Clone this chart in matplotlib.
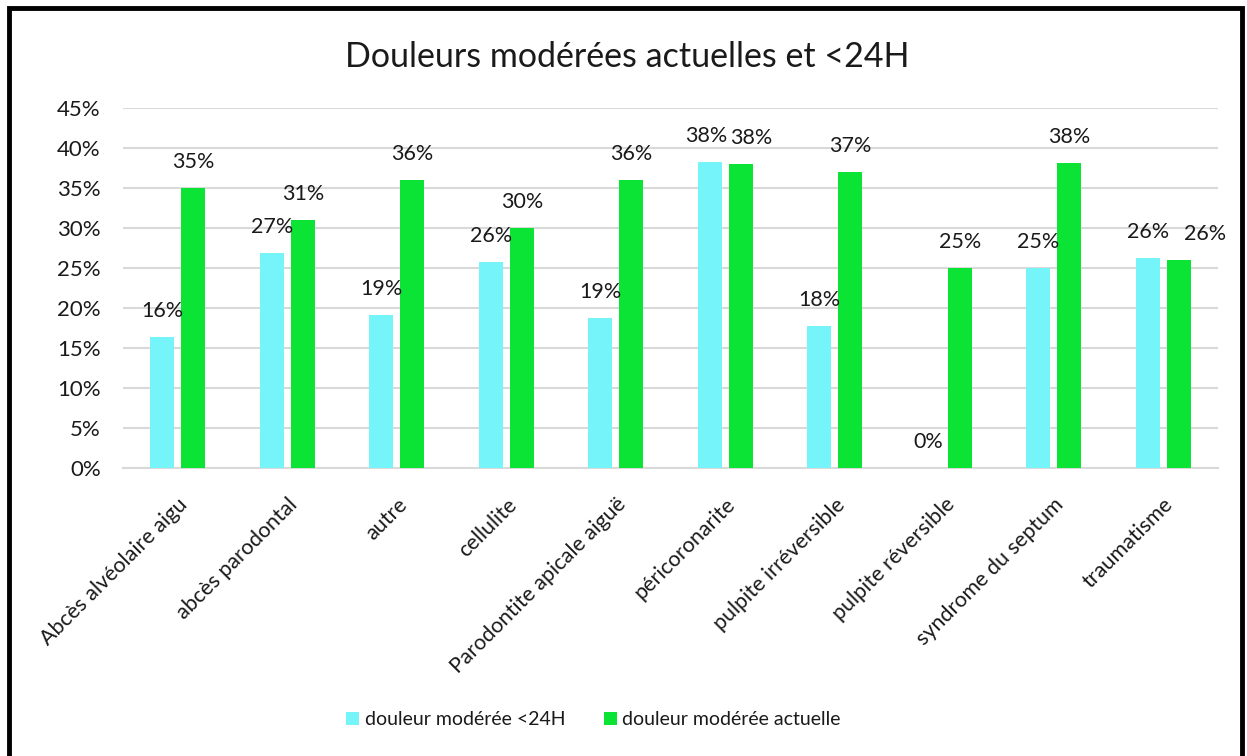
import matplotlib
matplotlib.use("Agg")
import matplotlib.pyplot as plt
import numpy as np
from matplotlib.patches import Rectangle
from matplotlib.ticker import PercentFormatter

plt.rcParams["font.family"] = ["Lato", "DejaVu Sans"]

categories = ["Abcès alvéolaire aigu", "abcès parodontal", "autre", "cellulite",
              "Parodontite apicale aiguë", "péricoronarite", "pulpite irréversible",
              "pulpite réversible", "syndrome du septum", "traumatisme"]
moderee_24h = [0.164, 0.269, 0.191, 0.258, 0.188, 0.382, 0.178, 0.0, 0.25, 0.263]
moderee_actuelle = [0.35, 0.31, 0.36, 0.30, 0.36, 0.38, 0.37, 0.25, 0.381, 0.26]
series_names = ["douleur modérée <24H", "douleur modérée actuelle"]

CYAN = "#75F5F9"
GREEN = "#0BE335"
GRID = "#D9D9D9"
INK = "#1a1a1a"

# Excel nudged a few labels sideways so they don't collide (pixels)
nudge_24h = {5: -3}
nudge_actuelle = {5: 10, 9: 26}

fig = plt.figure(figsize=(12.47, 7.56), dpi=100)
ax = fig.add_axes([0.0986, 0.381, 0.8781, 0.476])

x = np.arange(len(categories))
w = 0.22
off = 0.142
b1 = ax.bar(x - off, moderee_24h, w, color=CYAN, label=series_names[0], zorder=3)
b2 = ax.bar(x + off, moderee_actuelle, w, color=GREEN, label=series_names[1], zorder=3)

for bars, vals, nudge in ((b1, moderee_24h, nudge_24h), (b2, moderee_actuelle, nudge_actuelle)):
    for i, (r, v) in enumerate(zip(bars, vals)):
        ax.annotate(f"{v * 100:.0f}%", (r.get_x() + r.get_width() / 2, v),
                    xytext=(nudge.get(i, 0), 26), textcoords="offset pixels",
                    ha="center", va="center", fontsize=15.5, color=INK)

ax.set_xlim(-0.5, len(categories) - 0.5)
ax.set_ylim(0, 0.45)
ax.set_yticks(np.arange(0, 0.451, 0.05))
ax.yaxis.set_major_formatter(PercentFormatter(1.0, decimals=0))
ax.grid(axis="y", color=GRID, lw=1.5, zorder=0)
for s in ("top", "right", "left"):
    ax.spines[s].set_visible(False)
ax.spines["bottom"].set_color(GRID)
ax.spines["bottom"].set_linewidth(1.5)
ax.tick_params(axis="y", length=0, labelsize=16, colors=INK, pad=16)
ax.tick_params(axis="x", length=0, labelsize=15.5, colors=INK, pad=19)
ax.set_xticks(x)
ax.set_xticklabels(categories, rotation=45, ha="right", rotation_mode="anchor")

fig.text(0.503, 0.925, "Douleurs modérées actuelles et <24H", ha="center",
         va="center", fontsize=24.5, color=INK)

fig.legend(loc="center", bbox_to_anchor=(0.476, 0.048), ncol=2, frameon=False,
           fontsize=14, handlelength=0.65, handleheight=0.65, handletextpad=0.3,
           columnspacing=2.0, labelcolor=INK)

fig.add_artist(Rectangle((0.0072, -0.05), 0.9888, 1.04, transform=fig.transFigure,
                         fill=False, lw=3.5, edgecolor="black"))

fig.savefig("out.png", dpi=100)
